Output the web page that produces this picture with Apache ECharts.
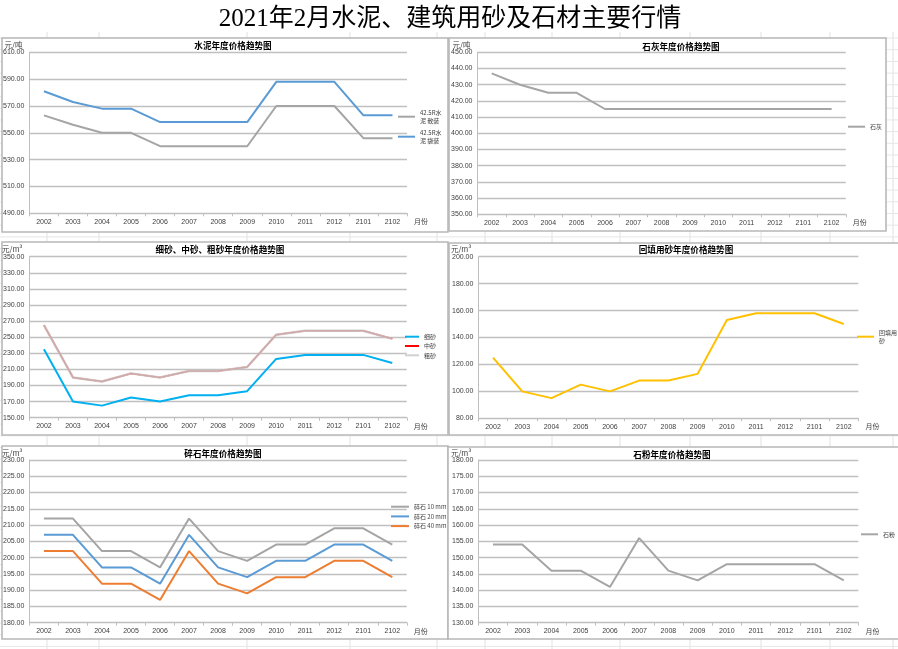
<!DOCTYPE html>
<html>
<head>
<meta charset="utf-8">
<script src="https://cdn.jsdelivr.net/npm/echarts@6/dist/echarts.min.js"></script>
<style>
html,body{margin:0;padding:0;background:#fff;}
#chart{width:898px;height:649px;}
</style>
</head>
<body>
<div id="chart"></div>
<script>
// ---- data ----
const categories = ['2002','2003','2004','2005','2006','2007','2008','2009','2010','2011','2012','2101','2102'];
const cementBulk = [563,556,550,550,540,540,540,540,570,570,570,546,546];
const cementBag  = [581,573,568,568,558,558,558,558,588,588,588,563,563];
const limePrice  = [437,430,425,425,415,415,415,415,415,415,415,415,415];
const fineSand   = [235,170,165,175,170,178,178,183,223,228,228,228,218];
const mediumSand = [265,200,195,205,200,208,208,213,253,258,258,258,248];
const coarseSand = [265,200,195,205,200,208,208,213,253,258,258,258,248];
const backfillSand = [125,100,95,105,100,108,108,113,153,158,158,158,150];
const gravel10 = [212,212,202,202,197,212,202,199,204,204,209,209,204];
const gravel20 = [207,207,197,197,192,207,197,194,199,199,204,204,199];
const gravel40 = [202,202,192,192,187,202,192,189,194,194,199,199,194];
const stonePowder = [154,154,146,146,141,156,146,143,148,148,148,148,143];

const mainTitle = '2021年2月水泥、建筑用砂及石材主要行情';
const panelTitles = ['水泥年度价格趋势图','石灰年度价格趋势图','细砂、中砂、粗砂年度价格趋势图','回填用砂年度价格趋势图','碎石年度价格趋势图','石粉年度价格趋势图'];
const units = ['元/吨','元/吨','元/m³','元/m³','元/m³','元/m³'];
const axisRanges = [[490,610,20],[350,450,10],[150,350,20],[80,200,20],[180,230,5],[130,180,5]];

// ---- layout ----
const CJK = '"Noto Sans CJK SC", sans-serif';
const NUM = '"Liberation Sans", "Noto Sans CJK SC", sans-serif';
const panels = [
  {x:2,   y:38,  w:446, h:194},
  {x:449, y:38,  w:437, h:193},
  {x:2,   y:242, w:446, h:193},
  {x:449, y:243, w:460, h:192},
  {x:2,   y:446, w:446, h:193},
  {x:448, y:447, w:460, h:192}
];
const grids = [
  {left:29,    top:52.3,  width:378,   height:161},
  {left:477.5, top:52.3,  width:368.3, height:162},
  {left:28.8,  top:256.7, width:378,   height:161},
  {left:478.4, top:256.7, width:380,   height:161.6},
  {left:28.8,  top:460,   width:378,   height:162.7},
  {left:478.4, top:460,   width:380,   height:162.7}
];
const titleCenters = [[233,46],[681,47],[220,250],[686,250],[223,454],[672,455]];

const gridLineColor = '#c0c0c0';
const axisColor = '#bfbfbf';
const labelColor = '#404040';

const xAxes = grids.map((g,i)=>({
  gridIndex:i, type:'category', data:categories, boundaryGap:true,
  axisLine:{show:true, lineStyle:{color:axisColor, width:1}},
  axisTick:{show:true, length:3, lineStyle:{color:axisColor}},
  axisLabel:{fontSize:7, color:labelColor, margin:5, interval:0, fontFamily:NUM},
  name:'月份', nameLocation:'end', nameGap:7,
  nameTextStyle:{fontSize:7, color:labelColor, fontFamily:CJK, verticalAlign:'top', padding:[5,0,0,0]}
}));
const yAxes = grids.map((g,i)=>({
  gridIndex:i, type:'value', min:axisRanges[i][0], max:axisRanges[i][1], interval:axisRanges[i][2],
  axisLine:{show:true, lineStyle:{color:axisColor, width:1}},
  axisTick:{show:false},
  axisLabel:{fontSize:7, color:labelColor, margin:5, fontFamily:NUM, formatter:v=>v.toFixed(2)},
  splitLine:{show:true, lineStyle:{color:gridLineColor, width:1.3}},
  name:units[i], nameLocation:'end', nameGap:2,
  nameTextStyle:{fontSize:7.5, color:labelColor, fontFamily:CJK, align:'right', padding:[0,7,0,0]}
}));

function line(name, data, color, idx, z, w){
  return {name, type:'line', data, xAxisIndex:idx, yAxisIndex:idx, color,
    symbol:'none', lineStyle:{width:w||2, color}, z: z||2, animation:false};
}
const series = [
  line('42.5R水泥 散装', cementBulk, '#a5a5a5', 0),
  line('42.5R水泥 袋装', cementBag, '#5b9bd5', 0),
  line('石灰', limePrice, '#a5a5a5', 1),
  line('细砂', fineSand, '#00b0f0', 2),
  line('中砂', mediumSand, '#ff0000', 2, 2, 1.6),
  line('粗砂', coarseSand, 'rgba(200,200,200,0.84)', 2, 3, 2.4),
  line('回填用砂', backfillSand, '#ffc000', 3),
  line('碎石 10 mm', gravel10, '#a5a5a5', 4),
  line('碎石 20 mm', gravel20, '#5b9bd5', 4),
  line('碎石 40 mm', gravel40, '#ed7d31', 4),
  line('石粉', stonePowder, '#a5a5a5', 5)
];

function legend(names, left, top, opts){
  return Object.assign({
    orient:'vertical', left, top, padding:0, icon:'rect', itemWidth:17, itemHeight:2, itemGap:3,
    selectedMode:false, data:names,
    textStyle:{fontSize:6, color:'#404040', fontFamily:CJK, lineHeight:8, padding:[0,0,0,0]}
  }, opts||{});
}
const legends = [
  legend(['42.5R水泥 散装','42.5R水泥 袋装'], 398, 106.7, {itemGap:0,
    formatter:n=>n.replace('42.5R水泥 ','42.5R水\n泥 '),
    textStyle:{fontSize:6, color:'#404040', fontFamily:CJK, lineHeight:8, padding:[4,0,0,0]}}),
  legend(['石灰'], 848, 122.7),
  legend(['细砂','中砂','粗砂'], 405, 332.7, {itemWidth:14, itemGap:1.3}),
  legend(['回填用砂'], 857, 326.7, {
    formatter:n=>'回填用\n砂',
    textStyle:{fontSize:6, color:'#404040', fontFamily:CJK, lineHeight:8, padding:[4,0,0,0]}}),
  legend(['碎石 10 mm','碎石 20 mm','碎石 40 mm'], 391, 502.7, {itemWidth:18, itemGap:1.7}),
  legend(['石粉'], 861, 530.3)
];

// background spreadsheet grid + panel frames + titles
const gfx = [];
const colXs = [47,99,247,350,437,485,552,620,690,761,830,893];
colXs.forEach(x=>gfx.push({type:'line', shape:{x1:x,y1:32,x2:x,y2:649}, style:{stroke:'#e2e2e2', lineWidth:1}, z:-30, silent:true}));
for(let y=38; y<649; y+=11.7){
  gfx.push({type:'line', shape:{x1:0,y1:y,x2:898,y2:y}, style:{stroke:'#e6e6e6', lineWidth:1}, z:-30, silent:true});
}
panels.forEach(p=>gfx.push({type:'rect', shape:{x:p.x,y:p.y,width:p.w,height:p.h},
  style:{fill:'#ffffff', stroke:'#b8b8b8', lineWidth:1.6}, z:-20, silent:true}));
gfx.push({type:'text', x:450, y:19, z:10, silent:true,
  style:{text:mainTitle, font:'25px "Liberation Serif", "Noto Sans CJK SC", serif', fill:'#000', align:'center', verticalAlign:'middle'}});
panelTitles.forEach((t,i)=>gfx.push({type:'text', x:titleCenters[i][0], y:titleCenters[i][1], z:10, silent:true,
  style:{text:t, font:'bold 8.6px "Noto Sans CJK SC", sans-serif', fill:'#000', align:'center', verticalAlign:'middle'}}));

const chart = echarts.init(document.getElementById('chart'), null, {renderer:'canvas'});
chart.setOption({
  animation:false,
  backgroundColor:'#ffffff',
  graphic:{elements:gfx},
  grid:grids.map(g=>Object.assign({containLabel:false}, g)),
  xAxis:xAxes,
  yAxis:yAxes,
  legend:legends,
  series
});
</script>
</body>
</html>
